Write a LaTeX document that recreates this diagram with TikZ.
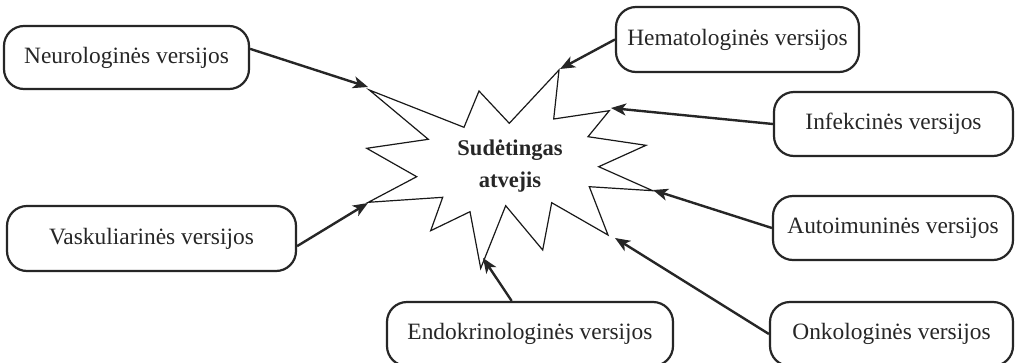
\documentclass[tikz,border=0pt]{standalone}
\usepackage{fontspec}
\setmainfont{Liberation Serif}
\usetikzlibrary{arrows.meta}
\tikzset{
  vbox/.style={draw=black!85, line width=2.2pt, rounded corners=20pt, inner sep=0pt,
    font=\fontsize{23.4}{28}\selectfont, text=black!85},
  arr/.style={draw=black!85, line width=2.4pt, -{Stealth[length=15pt,width=12pt,inset=4pt]}},
  starline/.style={draw=black!90, line width=1.2pt, line join=miter},
}
\begin{document}
\begin{tikzpicture}[x=1pt,y=-1pt]
\clip (0,0) rectangle (1015,362);
\fill[white] (0,0) rectangle (1015,362);
% star
\draw[starline] (369.3,90) -- (464,127.3) -- (479,91) -- (509.3,123.3) -- (559,70)
  -- (553.7,119) -- (609.3,110.7) -- (588,136.7) -- (646,145.3) -- (598.7,166.7)
  -- (652.7,190.7) -- (589.3,186.7) -- (608,235) -- (551.7,202.7) -- (542.7,250)
  -- (505.7,205.7) -- (480.7,268.3) -- (470,211.7) -- (430.7,230.7) -- (442.7,197.3)
  -- (368.3,202.3) -- (416.7,176.7) -- (366.7,148.3) -- (428.3,139.3) -- cycle;
\node[align=center, font=\fontsize{22.5}{31.7}\selectfont\bfseries, text=black!85] (center) at (510,166) {Sudėtingas\\atvejis};
% boxes
\node[vbox, minimum width=245pt, minimum height=63pt] (neuro) at (126.5,57.5) {Neurologinės versijos};
\node[vbox, minimum width=243pt, minimum height=65pt] (hema) at (737.5,39.5) {Hematologinės versijos};
\node[vbox, minimum width=239pt, minimum height=64pt] (infek) at (893.5,124) {Infekcinės versijos};
\node[vbox, minimum width=289pt, minimum height=65pt] (vask) at (151.5,238.5) {Vaskuliarinės versijos};
\node[vbox, minimum width=240pt, minimum height=64pt] (auto) at (893,228) {Autoimuninės versijos};
\node[vbox, minimum width=243pt, minimum height=64pt] (onko) at (891.5,334) {Onkologinės versijos};
\node[vbox, minimum width=286pt, minimum height=64pt] (endo) at (530,334) {Endokrinologinės versijos};
% tips
\coordinate (tN) at (368,87);
\coordinate (tH) at (560,69);
\coordinate (tI) at (611,108);
\coordinate (tV) at (368,203);
\coordinate (tA) at (653,190);
\coordinate (tO) at (615,238);
\coordinate (tE) at (483,258);
% arrows
\draw[arr] (neuro.4) -- (tN);
\draw[arr] (hema.west) -- (tH);
\draw[arr] (infek.west) -- (tI);
\draw[arr] (vask.-3) -- (tV);
\draw[arr] (auto.west) -- (tA);
\draw[arr] (onko.west) -- (tO);
\draw[arr] (endo.119.5) -- (tE);
\end{tikzpicture}
\end{document}
